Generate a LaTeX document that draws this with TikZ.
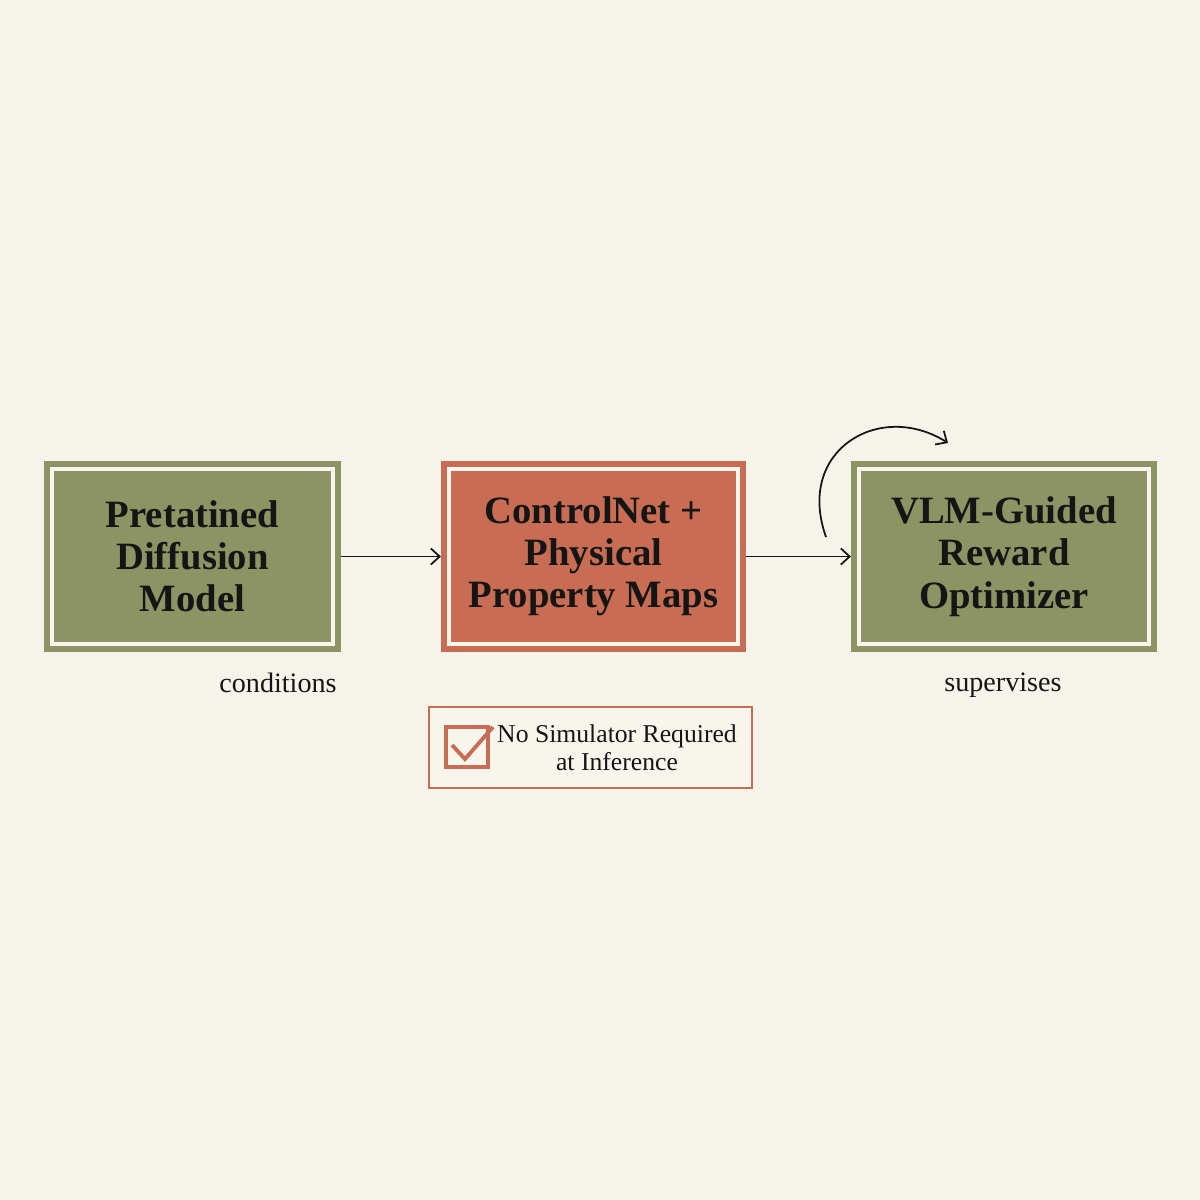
\documentclass[tikz,border=0pt]{standalone}
\usepackage{fontspec}
\setmainfont{Liberation Serif}
\usepackage{tikz}
\usetikzlibrary{arrows.meta}
\definecolor{paper}{HTML}{F5F3EA}
\definecolor{olive}{HTML}{8D9464}
\definecolor{clay}{HTML}{C86D53}
\definecolor{cream}{HTML}{F8F5EC}
\definecolor{ink}{HTML}{151515}
\tikzstyle{block}=[rectangle,draw=cream,line width=1pt,minimum height=1.75cm,outer sep=0.08cm,align=center,text=ink,font=\fontsize{11}{12}\selectfont\bfseries]
\tikzstyle{green block}=[block,fill=olive,preaction={draw=olive,fill=olive,line width=4.6pt}]
\tikzstyle{red block}=[block,fill=clay,preaction={draw=clay,fill=clay,line width=4.6pt}]
\tikzstyle{flow}=[draw=ink,line width=0.5pt,-{Straight Barb[length=2.5pt,width=4.6pt]}]
\tikzstyle{caption}=[text=ink,font=\fontsize{8}{9}\selectfont]

\begin{document}
\begin{tikzpicture}[x=0.01cm,y=-0.01cm]
        \fill[paper] (0,0) rectangle (1200,1200);
        % main pipeline
        \node[green block,minimum width=2.81cm] (pretrained) at (192.5,556.5) {Pretatined\\Diffusion\\Model};
        \node[red block,minimum width=2.89cm] (controlnet) at (593.5,556.5) {ControlNet +\\Physical\\Property Maps};
        \node[green block,minimum width=2.90cm] (optimizer) at (1004,556.5) {VLM-Guided\\Reward\\Optimizer};
        \draw[flow] (pretrained) -- (controlnet);
        \draw[flow] (controlnet) -- (optimizer);
        \coordinate (loopstart) at (826,537);
        \coordinate (loopend) at (948,443);
        \draw[flow] (loopstart) .. controls (795,450) and (880,400) .. (loopend);
        \node[caption] (conditions) at (278,683) {conditions};
        \node[caption] (supervises) at (1003,685) {supervises};
        % note
        \node[rectangle,draw=clay,fill=cream,line width=0.7pt,minimum width=3.23cm,minimum height=0.81cm] (notebox) at (590.5,747.5) {};
        \node[rectangle,draw=clay,line width=0.9pt,minimum width=0.42cm,minimum height=0.40cm] (tick) at (467,747) {};
        \draw[clay,line width=1.1pt] (452,745) -- (465,759) -- (493,727);
        \node[caption,align=center,font=\fontsize{7.3}{8}\selectfont] (notetext) at (617,748) {No Simulator Required\\at Inference};
      \end{tikzpicture}
\end{document}
